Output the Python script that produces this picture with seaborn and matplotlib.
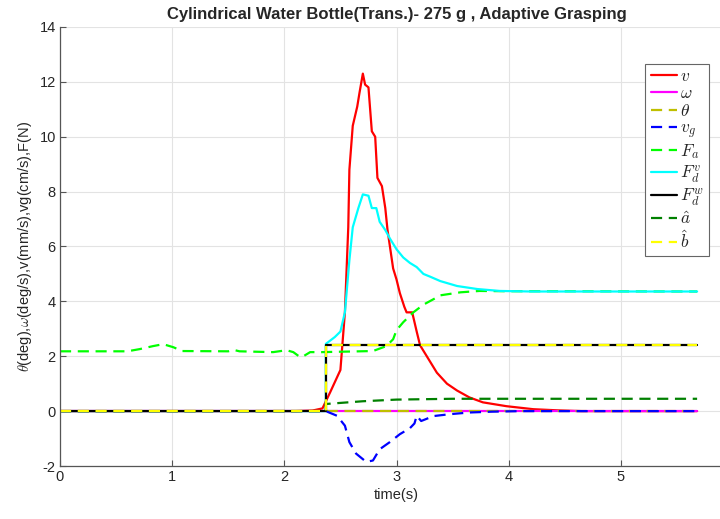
import numpy as np
import pandas as pd
import seaborn as sns
import matplotlib
matplotlib.use("Agg")
import matplotlib.pyplot as plt

# ---------------- data ----------------
v_t = [0, 2.10, 2.25, 2.34, 2.41, 2.50, 2.54, 2.57, 2.58, 2.61, 2.65, 2.67, 2.70, 2.72,
       2.75, 2.78, 2.81, 2.83, 2.87, 2.90, 2.92, 2.97, 3.00, 3.03, 3.07, 3.09, 3.14, 3.18,
       3.21, 3.27, 3.36, 3.45, 3.54, 3.65, 3.77, 3.98, 4.22, 4.43, 4.65, 5.68]
v_y = [0, 0, 0.02, 0.10, 0.70, 1.5, 3.6, 6.7, 8.8, 10.4, 11.1, 11.6, 12.3, 11.9,
       11.8, 10.2, 10.0, 8.5, 8.2, 7.4, 6.6, 5.2, 4.8, 4.3, 3.8, 3.6, 3.6, 2.9,
       2.4, 2.0, 1.4, 1.0, 0.75, 0.5, 0.32, 0.18, 0.07, 0.03, 0, 0]

w_t = [0, 5.68]
w_y = [0, 0]

th_t = [0, 5.68]
th_y = [0, 0]

vg_t = [0, 2.37, 2.47, 2.54, 2.58, 2.64, 2.73, 2.79, 2.85, 2.94, 3.03, 3.12, 3.16,
        3.18, 3.22, 3.33, 3.48, 3.65, 3.85, 4.10, 5.68]
vg_y = [0, 0, -0.17, -0.53, -1.13, -1.55, -1.85, -1.80, -1.39, -1.13, -0.84, -0.62, -0.45,
        -0.17, -0.36, -0.18, -0.11, -0.05, -0.02, 0, 0]

fa_t = [0, 0.60, 0.71, 0.83, 0.92, 1.01, 1.09, 1.50, 1.55, 1.60, 1.90, 2.02, 2.08, 2.14,
        2.17, 2.23, 2.33, 2.79, 2.91, 2.97, 3.00, 3.06, 3.15, 3.24, 3.33, 3.39, 3.57,
        3.74, 3.98, 5.68]
fa_y = [2.18, 2.18, 2.26, 2.37, 2.44, 2.33, 2.19, 2.18, 2.23, 2.18, 2.15, 2.22, 2.15, 1.97,
        2.00, 2.15, 2.15, 2.19, 2.37, 2.62, 2.95, 3.24, 3.60, 3.88, 4.08, 4.22, 4.33,
        4.38, 4.37, 4.36]

fdv_t = [0, 2.37, 2.37, 2.45, 2.50, 2.54, 2.58, 2.61, 2.66, 2.70, 2.75, 2.78, 2.82, 2.85,
         2.90, 2.94, 3.00, 3.06, 3.12, 3.18, 3.24, 3.30, 3.39, 3.54, 3.72, 3.92, 4.20, 5.68]
fdv_y = [0, 0, 2.45, 2.70, 2.90, 3.60, 5.5, 6.7, 7.4, 7.9, 7.85, 7.4, 7.4, 6.9,
         6.6, 6.3, 5.9, 5.6, 5.4, 5.25, 5.0, 4.9, 4.74, 4.56, 4.45, 4.38, 4.36, 4.36]

fdw_t = [0, 2.37, 2.37, 5.68]
fdw_y = [0, 0, 2.41, 2.41]

ah_t = [0, 2.37, 2.37, 2.70, 3.00, 3.50, 5.68]
ah_y = [0, 0, 0.26, 0.36, 0.42, 0.45, 0.45]

bh_t = [0, 2.37, 2.37, 5.68]
bh_y = [0, 0, 2.41, 2.41]

series = [
    (r"$v$", v_t, v_y, "#FF0000", "-"),
    (r"$\omega$", w_t, w_y, "#FF00FF", "-"),
    (r"$\theta$", th_t, th_y, "#BFBF00", "--"),
    (r"$v_g$", vg_t, vg_y, "#0000FF", "--"),
    (r"$F_a$", fa_t, fa_y, "#00FF00", "--"),
    (r"$F_d^v$", fdv_t, fdv_y, "#00FFFF", "-"),
    (r"$F_d^w$", fdw_t, fdw_y, "#000000", "-"),
    (r"$\hat{a}$", ah_t, ah_y, "#008000", "--"),
    (r"$\hat{b}$", bh_t, bh_y, "#FFFF00", "--"),
]

title = "Cylindrical Water Bottle(Trans.)- 275 g , Adaptive Grasping"
xlab = "time(s)"
ylab = r"$\theta$(deg),$\omega$(deg/s),v(mm/s),vg(cm/s),F(N)"

# ---------------- plot ----------------
sns.set_theme(style="whitegrid")
plt.rcParams["font.family"] = ["Liberation Sans", "DejaVu Sans"]
plt.rcParams["mathtext.fontset"] = "cm"
plt.rcParams["axes.unicode_minus"] = False

fig = plt.figure(figsize=(7.2, 5.19), dpi=100)
ax = fig.add_axes([60 / 720, 1 - 466 / 519, 673 / 720, 439 / 519])

for label, t, y, color, ls in series:
    df = pd.DataFrame({"t": t, "y": y})
    sns.lineplot(data=df, x="t", y="y", ax=ax, color=color, linewidth=1.6,
                 sort=False, estimator=None, label=label)
    l = ax.get_lines()[-1]
    if ls == "--":
        l.set_linestyle((0, (5, 3)))

ax.set_xlim(0, 6)
ax.set_ylim(-2, 14)
ax.set_xticks([0, 1, 2, 3, 4, 5])
ax.set_yticks(np.arange(-2, 15, 2))
ax.grid(True, color="#E3E3E3", linewidth=0.8)
ax.set_axisbelow(True)
for s in ["top", "right"]:
    ax.spines[s].set_visible(False)
for s in ["left", "bottom"]:
    ax.spines[s].set_color("#555555")
    ax.spines[s].set_linewidth(0.9)
ax.tick_params(direction="in", length=4, width=0.8, color="#555555",
               labelsize=10.5, labelcolor="#262626", pad=3)
ax.tick_params(axis="y", left=True)
ax.tick_params(axis="x", bottom=True)

ax.set_title(title, fontsize=12, fontweight="bold", pad=6)
ax.set_xlabel(xlab, fontsize=10.5, color="#262626", labelpad=3)
ax.set_ylabel(ylab, fontsize=10.5, color="#262626", labelpad=4)

leg = ax.legend(loc="upper right", bbox_to_anchor=(0.964, 0.916), fontsize=12.5,
                handlelength=1.55, handletextpad=0.15, labelspacing=0.1,
                borderpad=0.3, borderaxespad=0, frameon=True, fancybox=False)
leg.get_frame().set_edgecolor("#666666")
leg.get_frame().set_linewidth(0.8)
leg.get_frame().set_alpha(1)

fig.savefig("out.png", dpi=100)
